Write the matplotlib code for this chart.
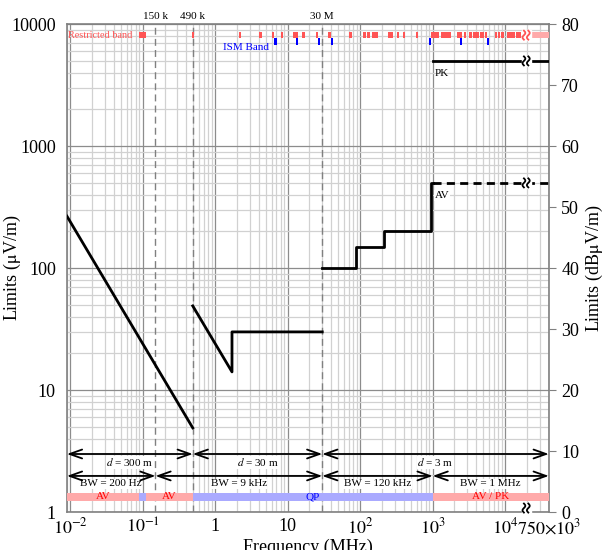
import numpy as np
import matplotlib
matplotlib.use("Agg")
import matplotlib.pyplot as plt
import matplotlib.transforms as mtransforms
from matplotlib.patches import Rectangle

plt.rcParams['font.family'] = ['Liberation Serif', 'DejaVu Serif']
plt.rcParams['mathtext.fontset'] = 'stix'

# ---- data (frequency in MHz, field strength in uV/m) ----
f_300m = [0.009, 0.49]
e_300m = [266.7, 4.9]
f_30m = [0.49, 1.705, 1.705, 30]
e_30m = [49.0, 14.1, 30.0, 30.0]
f_3m = [30, 88, 88, 216, 216, 960, 960, 1000]
e_3m = [100, 100, 150, 150, 200, 200, 500, 500]
f_av = [1000, 40000]
e_av = [500, 500]
f_pk = [1000, 40000]
e_pk = [5000, 5000]

restricted = [
    (0.090, 0.110), (0.495, 0.505), (2.1735, 2.1905), (4.125, 4.128),
    (4.17725, 4.17775), (4.20725, 4.20775), (6.215, 6.218), (6.26775, 6.26825),
    (6.31175, 6.31225), (8.291, 8.294), (8.362, 8.366), (8.37625, 8.38675),
    (8.41425, 8.41475), (12.29, 12.293), (12.51975, 12.52025), (12.57675, 12.57725),
    (13.36, 13.41), (16.42, 16.423), (16.69475, 16.69525), (16.80425, 16.80475),
    (25.5, 25.67), (37.5, 38.25), (73, 74.6), (74.8, 75.2), (108, 121.94),
    (123, 138), (149.9, 150.05), (156.52475, 156.52525), (156.7, 156.9),
    (162.0125, 167.17), (167.72, 173.2), (240, 285), (322, 335.4), (399.9, 410),
    (608, 614), (960, 1240), (1300, 1427), (1435, 1626.5), (1645.5, 1646.5),
    (1660, 1710), (1718.8, 1722.2), (2200, 2300), (2310, 2390), (2483.5, 2500),
    (2690, 2900), (3260, 3267), (3332, 3339), (3345.8, 3358), (3600, 4400),
    (4500, 5150), (5350, 5460), (7250, 7750), (8025, 8500), (9000, 9200),
    (9300, 9500), (10600, 12700), (13250, 13400), (14470, 14500), (15350, 16200),
]
restricted_above = (23000, 40000)
ism = [(6.765, 6.795), (13.553, 13.567), (26.957, 27.283), (40.66, 40.70),
       (902, 928), (2400, 2500), (5725, 5875)]

detector = [(0.009, 0.09, 'AV'), (0.09, 0.11, 'QP '), (0.11, 0.49, 'AV'),
            (0.49, 1000, 'QP'), (1000, 40000, 'AV / PK')]
distance = [(0.009, 0.49, '300'), (0.49, 30, '30'), (30, 40000, '3')]
bandwidth = [(0.009, 0.15, '200 Hz'), (0.15, 30, '9 kHz'),
             (30, 1000, '120 kHz'), (1000, 40000, '1 MHz')]
markers = [(0.15, '150 k'), (0.49, '490 k'), (30, '30 M')]
break_freq = 19500

red = '#ff5555'
pink = '#ffaaaa'
lblue = '#aaaaff'

fig = plt.figure(figsize=(6.03, 5.5), dpi=100)
ax = fig.add_axes([0.111, 0.069, 0.799, 0.887])
ax.set_xscale('log')
ax.set_yscale('log')
ax.set_xlim(0.009, 40000)
ax.set_ylim(1, 10000)

ax.grid(True, which='minor', color='0.82', lw=0.9)
ax.grid(True, which='major', color='0.55', lw=0.9)
ax.set_axisbelow(True)
for s in ax.spines.values():
    s.set_color('0.5')
    s.set_linewidth(1.2)

ax.set_xticks([1e-2, 1e-1, 1, 10, 1e2, 1e3, 1e4, 4e4])
ax.set_xticklabels([r'$10^{-2}$', r'$10^{-1}$', '1', '10', r'$10^{2}$',
                    r'$10^{3}$', r'$10^{4}$', r'$750{\times}10^{3}$'])
ax.set_yticks([1, 10, 100, 1000, 10000])
ax.set_yticklabels(['1', '10', '100', '1000', '10000'])
ax.tick_params(axis='x', which='both', length=0, labelsize=13, pad=4)
ax.tick_params(axis='y', which='both', length=0, labelsize=13, pad=8)
ax.set_xlabel('Frequency (MHz)', fontsize=13, labelpad=1)
ax.set_ylabel(r'Limits ($\mathrm{\mu}$V/m)', fontsize=13)
ax.yaxis.set_label_coords(-0.091, 0.5)

xt = ax.get_xaxis_transform()

for f, lab in markers:
    ax.axvline(f, color='0.5', lw=1.0, dashes=(5, 3), zorder=2)
    ax.text(f, 1.016, lab, transform=xt, ha='center', va='center', fontsize=8)

# limit lines
ax.plot(f_300m, e_300m, color='k', lw=2, zorder=5)
ax.plot(f_30m, e_30m, color='k', lw=2, zorder=5)
ax.plot(f_3m, e_3m, color='k', lw=2, zorder=5)
ax.plot(f_av, e_av, color='k', lw=2, dashes=(2.9, 1.9), zorder=5)
ax.plot(f_pk, e_pk, color='k', lw=2, zorder=5)
ax.text(1080, 4300, 'PK', fontsize=8, va='top', ha='left', zorder=6)
ax.text(1080, 430, 'AV', fontsize=8, va='top', ha='left', zorder=6,
        bbox=dict(fc='white', ec='none', pad=0.5))

# restricted / ISM bands at the top
def band(ax, f0, f1, y0, y1, color):
    minf = 1.072
    if f1 / f0 < minf:
        c = np.sqrt(f0 * f1)
        f0, f1 = c / np.sqrt(minf), c * np.sqrt(minf)
    ax.add_patch(Rectangle((f0, y0), f1 - f0, y1 - y0, transform=xt,
                           color=color, lw=0, zorder=4))

for f0, f1 in restricted:
    band(ax, f0, f1, 0.971, 0.984, red)
band(ax, restricted_above[0], restricted_above[1], 0.971, 0.984, pink)
for f0, f1 in ism:
    band(ax, f0, f1, 0.957, 0.971, 'blue')
ax.text(0.073, 0.9775, 'Restricted band', transform=xt, color=red,
        fontsize=7.4, ha='right', va='center')
ax.text(5.5, 0.953, 'ISM Band', transform=xt, color='blue',
        fontsize=8, ha='right', va='center')

# detector bar
for f0, f1, lab in detector:
    col = pink if 'AV' in lab else lblue
    ax.add_patch(Rectangle((f0, 0.0225), f1 - f0, 0.0165, transform=xt,
                           color=col, lw=0, zorder=4))
    if lab.strip() and f1 / f0 > 2:
        ax.text(np.sqrt(f0 * f1), 0.031, lab, transform=xt, fontsize=8,
                ha='center', va='center', zorder=6,
                color='red' if 'AV' in lab else 'blue')

arrow = dict(arrowstyle='<->,head_length=0.45,head_width=0.16', lw=1.3,
             color='k', shrinkA=0, shrinkB=0, mutation_scale=20)
for f0, f1, lab in distance:
    ax.annotate('', xy=(f1, 0.119), xytext=(f0, 0.119), xycoords=xt,
                arrowprops=arrow, zorder=6)
    ax.text(np.sqrt(f0 * f1), 0.102, r'$d$ = %s m' % lab, transform=xt,
            fontsize=8, ha='center', va='center',
            bbox=dict(fc='white', ec='none', pad=0.3))
for f0, f1, lab in bandwidth:
    ax.annotate('', xy=(f1, 0.074), xytext=(f0, 0.074), xycoords=xt,
                arrowprops=arrow, zorder=6)
    ax.text(np.sqrt(f0 * f1), 0.058, 'BW = %s' % lab, transform=xt,
            fontsize=8, ha='center', va='center',
            bbox=dict(fc='white', ec='none', pad=0.3))

# axis break marks
def draw_break(ax, x, y, base, color, dy=0.0):
    tr = fig.dpi_scale_trans + mtransforms.ScaledTranslation(x, y, base)
    yy = np.linspace(-4.5, 4.5, 40)
    ax.fill(np.array([-4.5, 4.5, 4.5, -4.5]) / 100,
            (np.array([-5, -5, 5, 5]) + dy) / 100,
            color='white', transform=tr, zorder=7, clip_on=False)
    for dx in (-2.2, 2.2):
        ax.plot((dx + 1.4 * np.sin(np.pi * yy / 4.5)) / 100, (yy + dy) / 100,
                color=color, lw=1.3, transform=tr, zorder=8, clip_on=False)

draw_break(ax, break_freq, e_pk[0], ax.transData, 'k')
draw_break(ax, break_freq, e_av[0], ax.transData, 'k')
draw_break(ax, break_freq, 0.9775, xt, red)
draw_break(ax, break_freq, 0.0, xt, 'k', dy=4)

# right axis in dBuV/m
ax2 = ax.twinx()
ax2.set_ylim(0, 80)
ax2.set_yticks(range(0, 81, 10))
ax2.tick_params(axis='y', direction='out', length=5, color='0.5',
                labelsize=13, pad=4)
for s in ax2.spines.values():
    s.set_visible(False)
ax2.set_ylabel(r'Limits (dB$\mathrm{\mu}$V/m)', fontsize=13)
ax2.yaxis.set_label_coords(1.072, 0.5)

fig.savefig('out.png', dpi=100)
